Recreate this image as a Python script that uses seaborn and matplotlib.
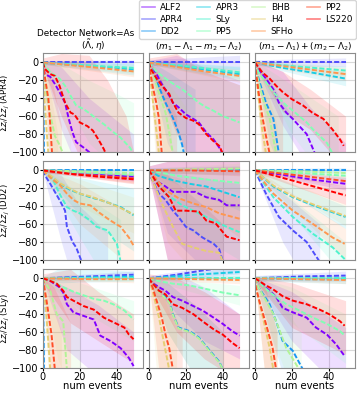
import numpy as np
import seaborn as sns
import matplotlib.pyplot as plt
from matplotlib.lines import Line2D

# EOS order as in legend (rainbow colours)
eos_names = ["ALF2", "APR4", "DD2", "APR3", "SLy", "PP5", "BHB", "H4", "SFHo", "PP2", "LS220"]
true_eos = ["APR4", "DD2", "SLy"]
col_titles = [r"$(\tilde{\Lambda}, \eta)$",
              r"$(m_1 - \Lambda_1 - m_2 - \Lambda_2)$",
              r"$(m_1 - \Lambda_1) + (m_2 - \Lambda_2)$"]
x_ticks = [0, 20, 40]
y_ticks = [0, -20, -40, -60, -80, -100]

# ---- mean curves: (num events, value) ----
apr4_lam_mean = {
    "ALF2": [(0, 0), (1, -13), (4, -16), (6.5, -24), (9, -33), (11, -41), (12, -45), (14, -63), (16, -78), (18, -89), (22, -95), (25, -100), (27, -108)],
    "APR4": [(0, 0), (20, 0), (49, 0)],
    "DD2": [(0, 0), (1, -160)],
    "APR3": [(0, 0), (10, -2), (25, -4), (40, -6), (49, -8)],
    "SLy": [(0, 0), (15, -2), (30, -4), (49, -6)],
    "PP5": [(0, 0), (4, -11), (9, -18), (12, -26), (16, -41), (18, -48), (22, -52), (26, -58), (29, -63), (33, -69), (37, -76), (42, -84), (47, -95), (49, -102)],
    "BHB": [(0, 0), (2, -37), (4, -58), (6.5, -82), (9, -92), (11, -102)],
    "H4": [(0, 0), (1, -45), (2, -75), (3, -102)],
    "SFHo": [(0, 0), (15, -3), (30, -6), (49, -10)],
    "PP2": [(0, 0), (1, -15), (3, -41), (4, -70), (5, -102)],
    "LS220": [(0, 0), (1, -7), (4, -13), (6.5, -15), (9, -26), (12, -45), (15, -56), (17, -58), (20, -67), (24, -71), (27, -76), (30, -86), (33, -97), (34, -102)],
}
apr4_sep_mean = {
    "ALF2": [(0, 0), (1, -3), (3.6, -11), (7, -24), (11, -37), (13, -45), (16, -50), (20, -58), (24, -63), (27, -67), (31, -78), (35, -86), (38, -95), (40, -102)],
    "APR4": [(0, 0), (20, 0), (49, 0)],
    "DD2": [(0, 0), (4, -20), (9, -45), (13, -62), (16, -78), (18, -92), (19, -102)],
    "APR3": [(0, 0), (15, -4), (30, -8), (49, -13)],
    "SLy": [(0, 0), (20, -4), (49, -11)],
    "PP5": [(0, 0), (4, -10), (9, -18), (14, -25), (18, -30), (23, -38), (27, -45), (31, -50), (35, -54), (40, -60), (44, -63), (49, -67)],
    "BHB": [(0, 0), (3, -18), (6, -38), (9, -56), (11, -78), (13, -102)],
    "H4": [(0, 0), (2, -40), (4, -75), (5.5, -102)],
    "SFHo": [(0, 0), (15, -5), (30, -10), (49, -15)],
    "PP2": [(0, 0), (2, -26), (4, -45), (5.5, -63), (7, -102)],
    "LS220": [(0, 0), (1, -7), (3.6, -16), (7, -26), (11, -35), (13, -45), (16, -56), (20, -62), (24, -65), (27, -69), (31, -80), (35, -88), (38, -93), (40, -102)],
}
apr4_pair_mean = {
    "ALF2": [(0, 0), (1.5, -7), (6, -18), (10, -30), (13, -45), (17, -56), (20.5, -63), (24, -71), (28, -80), (31.5, -97), (32.5, -102)],
    "APR4": [(0, 0), (20, 0), (49, 0)],
    "DD2": [(0, 0), (2, -18), (6, -45), (10, -63), (13, -102)],
    "APR3": [(0, 0), (15, -6), (30, -11), (49, -18)],
    "SLy": [(0, 0), (20, -4), (49, -9)],
    "PP5": [(0, 0), (2, -11), (6, -22), (10, -33), (13, -40), (17, -48), (20, -53), (24, -60), (28, -67), (31.5, -75), (35, -82), (39, -90), (42, -102)],
    "BHB": [(0, 0), (2, -22), (5, -45), (8, -63), (11.5, -102)],
    "H4": [(0, 0), (2, -40), (4, -75), (6, -102)],
    "SFHo": [(0, 0), (15, -4), (30, -8), (49, -13)],
    "PP2": [(0, 0), (2, -33), (4, -60), (6, -82), (8, -102)],
    "LS220": [(0, 0), (4, -11), (8, -18), (11.5, -26), (15, -33), (20, -41), (26, -48), (31, -56), (37, -63), (42, -75), (46, -86), (48, -93)],
}
dd2_lam_mean = {
    "ALF2": [(0, 0), (15, -3), (30, -5), (49, -7)],
    "APR4": [(0, 0), (1, -5), (4, -15), (9, -33), (12, -45), (13, -63), (16, -80), (18, -86), (21, -102)],
    "DD2": [(0, 0), (20, 0), (49, 0)],
    "APR3": [(0, 0), (5.6, -9), (9, -15), (15, -22), (20, -26), (25.6, -30), (31, -33), (36.5, -37), (42, -41), (49, -50)],
    "SLy": [(0, 0), (5.6, -11), (9, -26), (13, -41), (16.5, -45), (20, -48), (25.6, -56), (29, -63), (35, -67), (40, -82), (42, -102)],
    "PP5": [(0, 0), (15, -2), (30, -3), (49, -5)],
    "BHB": [(0, 0), (20, -1), (49, -3)],
    "H4": [(0, 0), (5.6, -8), (9, -14), (15, -21), (20, -26), (25.6, -29), (31, -33), (36.5, -37), (42, -42), (49, -49)],
    "SFHo": [(0, 0), (5.6, -11), (9, -16), (13, -26), (16.5, -33), (20, -37), (25.6, -39), (31, -48), (36.5, -56), (42, -63), (46.5, -75), (49, -84)],
    "PP2": [(0, 0), (15, -4), (30, -6), (49, -9)],
    "LS220": [(0, 0), (15, -4), (30, -7), (49, -10)],
}
dd2_sep_mean = {
    "ALF2": [(0, 0), (1, -3), (5, -13), (9, -18), (13, -24), (18, -24), (25, -24), (31, -30), (38, -33), (42, -39), (49, -39)],
    "APR4": [(0, 0), (1, -7), (5.5, -26), (9, -33), (13, -45), (16, -52), (20, -63), (24, -67), (29, -75), (35, -82), (38, -88), (40, -102)],
    "DD2": [(0, 0), (20, 0), (49, 0)],
    "APR3": [(0, 0), (5, -6), (13, -11), (22, -15), (31, -18), (40, -24), (49, -30)],
    "SLy": [(0, 0), (5, -15), (9, -26), (18, -39), (27, -48), (35, -56), (42, -63), (49, -69)],
    "PP5": [(0, 0), (15, -6), (30, -10), (49, -14)],
    "BHB": [(0, 0), (20, 1), (49, 2)],
    "H4": [(0, 0), (2, -11), (7, -37), (13, -63), (18, -82), (24, -86), (31, -90), (38, -92), (40, -102)],
    "SFHo": [(0, 0), (5, -12), (9, -22), (16, -31), (24, -37), (31, -41), (38, -48), (49, -54)],
    "PP2": [(0, 0), (20, 0), (49, -1)],
    "LS220": [(0, 0), (1, -3), (5.5, -18), (11, -30), (14.5, -45), (20, -45), (27, -46), (31, -56), (36, -59), (42, -74), (49, -78)],
}
dd2_pair_mean = {
    "ALF2": [(0, 0), (15, -5), (30, -10), (49, -15)],
    "APR4": [(0, 0), (6, -26), (13, -52), (20.5, -67), (28, -80), (35, -102)],
    "DD2": [(0, 0), (20, 0), (49, 0)],
    "APR3": [(0, 0), (10, -18), (20.5, -30), (31.5, -39), (49, -52)],
    "SLy": [(0, 0), (10, -30), (20.5, -52), (31.5, -71), (42, -86), (48.5, -99)],
    "PP5": [(0, 0), (25, -3), (49, -6)],
    "BHB": [(0, 0), (25, -1), (49, -3)],
    "H4": [(0, 0), (10, -17), (20.5, -29), (31.5, -38), (49, -51)],
    "SFHo": [(0, 0), (10, -26), (20.5, -45), (31.5, -60), (42, -75), (48.5, -82)],
    "PP2": [(0, 0), (25, -6), (49, -12)],
    "LS220": [(0, 0), (25, -14), (49, -28)],
}
sly_lam_mean = {
    "ALF2": [(0, 0), (4, -3), (9, -10), (11, -16), (13, -29), (16.5, -38), (22, -42), (27.5, -46), (31, -64), (36.5, -70), (42, -78), (46.5, -89), (49, -98)],
    "APR4": [(0, 0), (25, 2), (49, 4)],
    "DD2": [(0, 0), (1, -160)],
    "APR3": [(0, 0), (25, 1), (49, 2)],
    "SLy": [(0, 0), (20, 0), (49, 0)],
    "PP5": [(0, 0), (5.6, -4), (11, -10), (16.5, -15), (22, -19), (27.5, -23), (33, -25), (38, -29), (44, -36), (49, -46)],
    "BHB": [(0, 0), (4, -14), (7.5, -40), (11, -48), (13, -102)],
    "H4": [(0, 0), (2, -44), (4, -102)],
    "SFHo": [(0, 0), (25, -1), (49, -1)],
    "PP2": [(0, 0), (2, -25), (4.7, -63), (6.5, -102)],
    "LS220": [(0, 0), (4, -3), (7.5, -6), (11, -14), (13, -21), (16.5, -25), (22, -31), (27.5, -35), (33, -44), (38, -49), (44, -55), (46.5, -63), (49, -68)],
}
sly_sep_mean = {
    "ALF2": [(0, 0), (1, -4), (5.5, -10), (9, -14), (13, -21), (18, -25), (24, -31), (29, -36), (35, -44), (40, -51), (45, -59), (49, -64)],
    "APR4": [(0, 0), (15, 4), (30, 9), (49, 14)],
    "DD2": [(0, 0), (5.5, -14), (11, -25), (13, -40), (16, -55), (22, -59), (27, -66), (33, -81), (38, -93), (40, -102)],
    "APR3": [(0, 0), (25, 4), (49, 7)],
    "SLy": [(0, 0), (20, 0), (49, 0)],
    "PP5": [(0, 0), (5, -3), (13, -6), (22, -8), (31, -12), (40, -16), (49, -19)],
    "BHB": [(0, 0), (5.5, -15), (11, -27), (13, -41), (16, -56), (22, -60), (27, -67), (33, -82), (38, -94), (40, -102)],
    "H4": [(0, 0), (2, -14), (5.5, -44), (9, -81), (11, -102)],
    "SFHo": [(0, 0), (25, -1), (49, -2)],
    "PP2": [(0, 0), (2, -10), (7, -44), (9, -63), (11, -78), (13, -102)],
    "LS220": [(0, 0), (1, -3), (5.5, -14), (9, -18), (13, -29), (18, -33), (24, -40), (29, -48), (35, -57), (40, -63), (45, -72), (49, -78)],
}
sly_pair_mean = {
    "ALF2": [(0, 0), (2, -4), (8, -14), (11.5, -21), (15, -33), (20.5, -38), (28, -44), (33, -55), (39, -63), (44, -74), (48.5, -87)],
    "APR4": [(0, 0), (25, 2), (49, 3)],
    "DD2": [(0, 0), (2, -10), (8, -29), (11.5, -48), (15, -70), (20.5, -81), (26, -102)],
    "APR3": [(0, 0), (25, -1), (49, -1)],
    "SLy": [(0, 0), (20, 0), (49, 0)],
    "PP5": [(0, 0), (5, -10), (9.6, -18), (17, -29), (24, -36), (31.5, -44), (39, -51), (46, -59), (48.5, -64)],
    "BHB": [(0, 0), (2, -10), (10, -40), (17, -78), (24, -102)],
    "H4": [(0, 0), (1.5, -18), (5, -50), (8, -78), (10, -102)],
    "SFHo": [(0, 0), (25, -1), (49, -2)],
    "PP2": [(0, 0), (0.5, -10), (3, -30), (6, -51), (9.6, -78), (11.5, -102)],
    "LS220": [(0, 0), (3, -4), (6, -8), (9.6, -12), (15, -20), (20.5, -25), (28, -29), (35, -35), (40, -40), (46, -48), (48.5, -53)],
}

# ---- shaded spread: (num events, low, high) ----
apr4_lam_band = {
    "ALF2": [(0, -2, 2), (10, -75, -5), (25, -150, -40), (49, -150, -80)],
    "APR4": [(0, -2, 2), (49, -3, 3)],
    "DD2": [(0, 0, 0), (1, -150, 0)],
    "APR3": [(0, -2, 2), (49, -14, -2)],
    "SLy": [(0, -2, 2), (49, -12, 0)],
    "PP5": [(0, -2, 2), (10, -35, -2), (25, -90, -20), (40, -120, -35), (49, -150, -45)],
    "BHB": [(0, -2, 2), (5, -100, -10), (15, -150, -50)],
    "H4": [(0, -2, 2), (3, -150, -20), (8, -150, -80)],
    "SFHo": [(0, -2, 2), (49, -16, -4)],
    "PP2": [(0, -2, 2), (5, -150, -20), (10, -150, -70)],
    "LS220": [(0, -5, 5), (10, -60, 10), (25, -130, 8), (35, -150, -20), (45, -150, -60), (49, -150, -100)],
}
apr4_sep_band = {
    "ALF2": [(0, -2, 2), (15, -75, 8), (30, -150, -5), (49, -150, -20)],
    "APR4": [(0, -3, 3), (49, -8, 8)],
    "DD2": [(0, -2, 2), (10, -90, -10), (25, -150, -30)],
    "APR3": [(0, -2, 2), (49, -20, -5)],
    "SLy": [(0, -2, 2), (49, -18, -4)],
    "PP5": [(0, -2, 2), (20, -60, -5), (49, -110, -25)],
    "BHB": [(0, -2, 2), (8, -100, -15), (20, -150, -50)],
    "H4": [(0, -2, 2), (5, -150, -15), (12, -150, -70)],
    "SFHo": [(0, -2, 2), (49, -22, -8)],
    "PP2": [(0, -2, 2), (6, -150, -15), (15, -150, -60)],
    "LS220": [(0, -5, 5), (15, -80, 10), (30, -150, -10), (49, -150, -25)],
}
apr4_pair_band = {
    "ALF2": [(0, -2, 2), (15, -70, -10), (30, -120, -50), (49, -150, -90)],
    "APR4": [(0, -3, 3), (49, -5, 5)],
    "DD2": [(0, -2, 2), (8, -90, -20), (20, -150, -60)],
    "APR3": [(0, -2, 2), (49, -26, -10)],
    "SLy": [(0, -2, 2), (49, -15, -4)],
    "PP5": [(0, -2, 2), (20, -80, -25), (45, -150, -60)],
    "BHB": [(0, -2, 2), (8, -100, -25), (20, -150, -70)],
    "H4": [(0, -2, 2), (5, -150, -20), (12, -150, -70)],
    "SFHo": [(0, -2, 2), (49, -20, -6)],
    "PP2": [(0, -2, 2), (6, -150, -15), (15, -150, -60)],
    "LS220": [(0, -3, 3), (15, -55, -10), (30, -75, -30), (49, -120, -60)],
}
dd2_lam_band = {
    "ALF2": [(0, -2, 2), (49, -12, -2)],
    "APR4": [(0, -2, 2), (10, -80, -5), (20, -150, -40), (35, -150, -70)],
    "DD2": [(0, -2, 2), (49, -2, 2)],
    "APR3": [(0, -2, 2), (20, -50, -8), (49, -90, -20)],
    "SLy": [(0, -2, 2), (20, -75, -25), (42, -150, -55)],
    "PP5": [(0, -2, 2), (49, -9, -1)],
    "BHB": [(0, -2, 2), (49, -6, 0)],
    "H4": [(0, -2, 2), (20, -40, -10), (49, -70, -30)],
    "SFHo": [(0, -2, 2), (20, -60, -15), (49, -110, -50)],
    "PP2": [(0, -2, 2), (49, -14, -4)],
    "LS220": [(0, -2, 2), (49, -15, -5)],
}
dd2_sep_band = {
    "ALF2": [(0, -5, 5), (10, -100, 10), (49, -150, 10)],
    "APR4": [(0, -2, 2), (10, -70, -5), (30, -110, -40), (40, -150, -60)],
    "DD2": [(0, -3, 3), (49, -5, 5)],
    "APR3": [(0, -2, 2), (49, -45, -15)],
    "SLy": [(0, -2, 2), (20, -65, -15), (49, -100, -40)],
    "PP5": [(0, -2, 2), (49, -25, -5)],
    "BHB": [(0, -2, 2), (49, -4, 8)],
    "H4": [(0, -2, 2), (10, -80, -5), (40, -150, -60)],
    "SFHo": [(0, -2, 2), (49, -75, -30)],
    "PP2": [(0, -2, 2), (49, -6, 4)],
    "LS220": [(0, -5, 5), (10, -100, 10), (49, -150, 10)],
}
dd2_pair_band = {
    "ALF2": [(0, -2, 2), (49, -22, -8)],
    "APR4": [(0, -2, 2), (15, -80, -25), (35, -150, -60)],
    "DD2": [(0, -2, 2), (49, -3, 3)],
    "APR3": [(0, -2, 2), (49, -65, -40)],
    "SLy": [(0, -2, 2), (49, -120, -80)],
    "PP5": [(0, -2, 2), (49, -10, -2)],
    "BHB": [(0, -2, 2), (49, -6, 0)],
    "H4": [(0, -2, 2), (49, -62, -38)],
    "SFHo": [(0, -2, 2), (49, -100, -65)],
    "PP2": [(0, -2, 2), (49, -18, -6)],
    "LS220": [(0, -2, 2), (49, -38, -18)],
}
sly_lam_band = {
    "ALF2": [(0, -2, 2), (13, -80, -10), (30, -110, -30), (49, -150, -60)],
    "APR4": [(0, -2, 2), (49, 0, 8)],
    "DD2": [(0, 0, 0), (1, -150, 0)],
    "APR3": [(0, -2, 2), (10, -5, 12), (49, -3, 8)],
    "SLy": [(0, -2, 2), (49, -3, 3)],
    "PP5": [(0, -2, 2), (20, -35, -5), (49, -70, -25)],
    "BHB": [(0, -2, 2), (8, -90, -5), (20, -150, -40)],
    "H4": [(0, -2, 2), (4, -150, -10), (10, -150, -60)],
    "SFHo": [(0, -2, 2), (49, -5, 2)],
    "PP2": [(0, -2, 2), (6, -150, -10), (15, -150, -50)],
    "LS220": [(0, -5, 5), (15, -50, 10), (30, -70, -15), (49, -95, -40)],
}
sly_sep_band = {
    "ALF2": [(0, -2, 2), (15, -40, 5), (30, -70, -10), (49, -90, -40)],
    "APR4": [(0, -3, 3), (49, 5, 18)],
    "DD2": [(0, -2, 2), (10, -60, -5), (25, -110, -30), (40, -150, -60)],
    "APR3": [(0, -2, 2), (49, 2, 12)],
    "SLy": [(0, -2, 2), (49, -3, 3)],
    "PP5": [(0, -2, 2), (49, -30, -8)],
    "BHB": [(0, -2, 2), (10, -60, -5), (25, -110, -30), (40, -150, -60)],
    "H4": [(0, -2, 2), (6, -150, -10), (15, -150, -60)],
    "SFHo": [(0, -2, 2), (49, -6, 2)],
    "PP2": [(0, -2, 2), (8, -150, -15), (18, -150, -60)],
    "LS220": [(0, -5, 5), (15, -60, 0), (30, -90, -15), (49, -115, -40)],
}
sly_pair_band = {
    "ALF2": [(0, -2, 2), (20, -70, -15), (49, -130, -55)],
    "APR4": [(0, -3, 3), (49, -3, 8)],
    "DD2": [(0, -2, 2), (8, -60, -10), (20, -140, -40)],
    "APR3": [(0, -3, 3), (49, -6, 4)],
    "SLy": [(0, -2, 2), (49, -3, 3)],
    "PP5": [(0, -2, 2), (20, -50, -10), (49, -95, -40)],
    "BHB": [(0, -2, 2), (10, -70, -15), (25, -150, -60)],
    "H4": [(0, -2, 2), (5, -100, -5), (12, -150, -60)],
    "SFHo": [(0, -2, 2), (49, -6, 2)],
    "PP2": [(0, -2, 2), (5, -100, -5), (12, -150, -60)],
    "LS220": [(0, -2, 2), (20, -55, -5), (49, -85, -25)],
}

panel_means = [[apr4_lam_mean, apr4_sep_mean, apr4_pair_mean],
               [dd2_lam_mean, dd2_sep_mean, dd2_pair_mean],
               [sly_lam_mean, sly_sep_mean, sly_pair_mean]]
panel_bands = [[apr4_lam_band, apr4_sep_band, apr4_pair_band],
               [dd2_lam_band, dd2_sep_band, dd2_pair_band],
               [sly_lam_band, sly_sep_band, sly_pair_band]]

colors = plt.cm.rainbow(np.linspace(0, 1, len(eos_names)))


def draw_panel(ax, means, bands):
    # pale spread first, dashed means on top
    for k, eos in enumerate(eos_names):
        ev, lo, hi = zip(*bands[eos])
        ax.fill_between(ev, lo, hi, color=colors[k], alpha=0.13, linewidth=0)
    for k, eos in enumerate(eos_names):
        ev, val = zip(*means[eos])
        sns.lineplot(x=list(ev), y=list(val), ax=ax, color=colors[k], lw=1.4,
                     linestyle=(0, (2.6, 1.1)), sort=False, estimator=None)


fig, axes = plt.subplots(3, 3, figsize=(3.57, 3.93), dpi=100, sharex=True, sharey=True)
plt.subplots_adjust(left=0.12, right=0.994, top=0.865, bottom=0.064, wspace=0.06, hspace=0.09)

for i in range(3):
    for j in range(3):
        ax = axes[i, j]
        draw_panel(ax, panel_means[i][j], panel_bands[i][j])
        ax.set_xlim(0, 54)
        ax.set_ylim(-100, 10.5)
        ax.set_xticks(x_ticks)
        ax.set_yticks(y_ticks)
        ax.grid(True, color="#d9d9d9", lw=0.8)
        ax.set_axisbelow(True)
        for sp in ax.spines.values():
            sp.set_color("#8c8c8c")
        ax.tick_params(labelsize=7.0, length=2.5, pad=0.8)
        if i == 0:
            ax.set_title(col_titles[j], fontsize=6.4, pad=0.3)
        if j == 0:
            ax.set_ylabel(r"$\Sigma z_i/\Sigma z_j$ (%s)" % true_eos[i], fontsize=6.0)
            ax.yaxis.set_label_coords(-0.305, 0.5)
        if i == 2:
            ax.set_xlabel("num events", fontsize=7.2, labelpad=-1)

fig.text(37 / 357, 1 - 34 / 393, "Detector Network=As", fontsize=6.4, va="center", ha="left")

handles = [Line2D([], [], color=colors[k], alpha=0.5, lw=1.2) for k in range(len(eos_names))]
fig.legend(handles, eos_names, ncol=4, loc="upper right", bbox_to_anchor=(0.996, 1.0),
           fontsize=6.4, handlelength=1.5, handletextpad=0.6, columnspacing=1.5,
           labelspacing=0.35, borderpad=0.3, borderaxespad=0, frameon=True)

fig.savefig("out.png", dpi=100)
